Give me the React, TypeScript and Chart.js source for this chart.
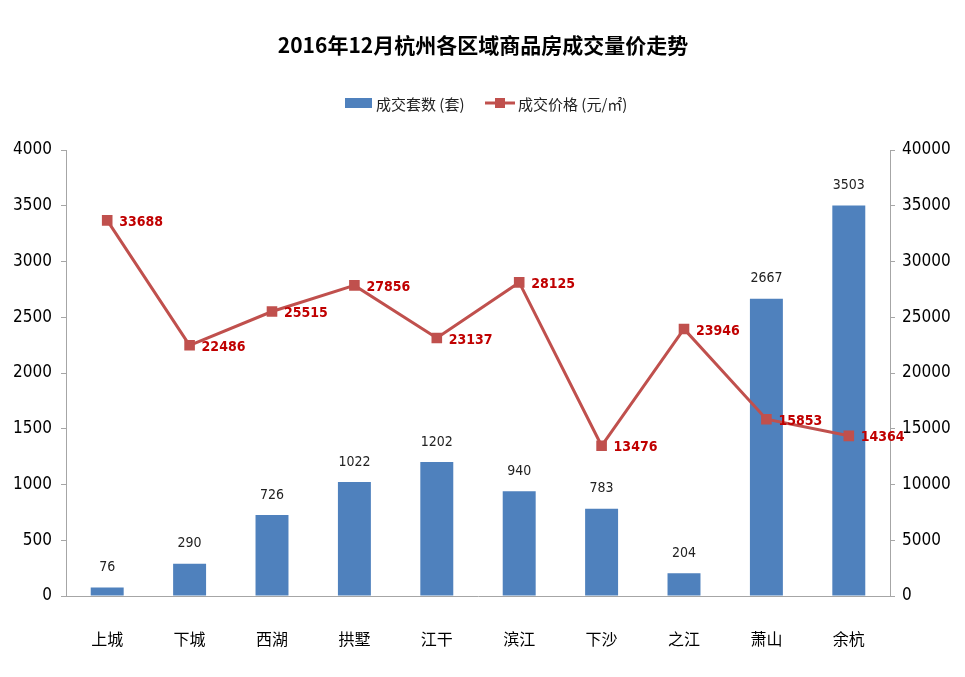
import { useEffect, useRef } from 'react';
import { Chart, registerables } from 'chart.js';

Chart.register(...registerables);

const TITLE = '2016年12月杭州各区域商品房成交量价走势';
const SERIES_UNITS = '成交套数 (套)';
const SERIES_PRICE = '成交价格 (元/㎡)';

const districts = ['上城', '下城', '西湖', '拱墅', '江干', '滨江', '下沙', '之江', '萧山', '余杭'];
const units = [76, 290, 726, 1022, 1202, 940, 783, 204, 2667, 3503];
const prices = [33688, 22486, 25515, 27856, 23137, 28125, 13476, 23946, 15853, 14364];

const leftMax = 4000;
const leftStep = 500;
const rightMax = 40000;
const rightStep = 5000;

const NUM = '"DejaVu Sans Condensed", "Noto Sans CJK SC", sans-serif';
const CJK = '"Noto Sans CJK SC", sans-serif';

const BAR_COLOR = '#4F81BD';
const LINE_COLOR = '#C0504D';
const LABEL_RED = '#C00000';
const AXIS_COLOR = '#A6A6A6';

const decorPlugin = {
  id: 'decor',
  afterDatasetsDraw(chart: any) {
    const ctx = chart.ctx as CanvasRenderingContext2D;
    ctx.save();
    // bar value labels
    const barMeta = chart.getDatasetMeta(1);
    ctx.font = `14px ${NUM}`;
    ctx.fillStyle = '#222';
    ctx.textAlign = 'center';
    ctx.textBaseline = 'middle';
    barMeta.data.forEach((el: any, i: number) => {
      ctx.fillText(String(units[i]), el.x, el.y - 20);
    });
    // line value labels
    const lineMeta = chart.getDatasetMeta(0);
    ctx.font = `bold 14px ${NUM}`;
    ctx.fillStyle = LABEL_RED;
    ctx.textAlign = 'left';
    lineMeta.data.forEach((el: any, i: number) => {
      ctx.fillText(String(prices[i]), el.x + 12, el.y + 2);
    });
    ctx.restore();
  },
  afterDraw(chart: any) {
    const ctx = chart.ctx as CanvasRenderingContext2D;
    ctx.save();
    // title
    ctx.font = `bold 21px ${CJK}`;
    ctx.fillStyle = '#000';
    ctx.textAlign = 'center';
    ctx.textBaseline = 'middle';
    ctx.fillText(TITLE, 483, 45);
    // legend
    ctx.fillStyle = BAR_COLOR;
    ctx.fillRect(345, 98, 27, 10);
    ctx.font = `15px ${CJK}`;
    ctx.fillStyle = '#222';
    ctx.textAlign = 'left';
    ctx.fillText(SERIES_UNITS, 376, 104);
    ctx.strokeStyle = LINE_COLOR;
    ctx.lineWidth = 3;
    ctx.beginPath();
    ctx.moveTo(485, 103);
    ctx.lineTo(515, 103);
    ctx.stroke();
    ctx.fillStyle = LINE_COLOR;
    ctx.fillRect(495, 98, 10, 10);
    ctx.fillStyle = '#222';
    ctx.fillText(SERIES_PRICE, 518, 104);
    ctx.restore();
  },
};

const plain = (v: any) => String(v);

export default function App() {
  const ref = useRef<HTMLCanvasElement | null>(null);

  useEffect(() => {
    document.body.style.margin = '0';
    const canvas = ref.current!;
    const chart = new Chart(canvas, {
      type: 'bar',
      data: {
        labels: districts,
        datasets: [
          {
            type: 'line',
            label: SERIES_PRICE,
            data: prices,
            yAxisID: 'y1',
            borderColor: LINE_COLOR,
            borderWidth: 3,
            pointStyle: 'rect',
            pointRadius: 7.5,
            pointBackgroundColor: LINE_COLOR,
            pointBorderColor: LINE_COLOR,
            pointBorderWidth: 0,
            tension: 0,
            order: 0,
          } as any,
          {
            type: 'bar',
            label: SERIES_UNITS,
            data: units,
            yAxisID: 'y',
            backgroundColor: BAR_COLOR,
            barPercentage: 0.4,
            categoryPercentage: 1,
            order: 1,
          },
        ],
      },
      options: {
        animation: false,
        responsive: false,
        maintainAspectRatio: false,
        layout: { padding: { top: 150, left: 0, right: 0, bottom: 0 } },
        plugins: {
          legend: { display: false },
          title: { display: false },
          tooltip: { enabled: false },
        },
        scales: {
          x: {
            grid: { display: false },
            border: { color: AXIS_COLOR, width: 1 },
            ticks: { color: '#000', font: { family: CJK, size: 16 }, padding: 25 },
            afterFit(s: any) {
              s.height = 81;
            },
          },
          y: {
            position: 'left',
            min: 0,
            max: leftMax,
            ticks: { stepSize: leftStep, color: '#000', font: { family: NUM, size: 17 }, padding: 9, callback: plain },
            grid: { drawOnChartArea: false, tickLength: 5, color: AXIS_COLOR },
            border: { color: AXIS_COLOR },
            afterFit(s: any) {
              s.width = 66;
            },
          },
          y1: {
            position: 'right',
            min: 0,
            max: rightMax,
            ticks: { stepSize: rightStep, color: '#000', font: { family: NUM, size: 17 }, padding: 7, callback: plain },
            grid: { drawOnChartArea: false, tickLength: 5, color: AXIS_COLOR },
            border: { color: AXIS_COLOR },
            afterFit(s: any) {
              s.width = 75;
            },
          },
        },
      } as any,
      plugins: [decorPlugin],
    });
    return () => chart.destroy();
  }, []);

  return (
    <div style={{ position: 'absolute', left: 0, top: 0, width: 965, height: 677, background: '#fff' }}>
      <canvas ref={ref} width={965} height={677} style={{ width: 965, height: 677, display: 'block' }} />
    </div>
  );
}
